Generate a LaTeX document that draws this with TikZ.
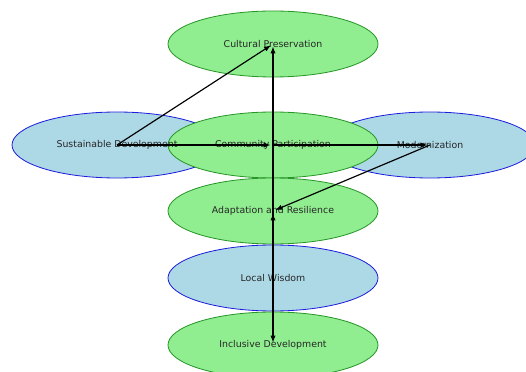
\documentclass[tikz,border=0pt]{standalone}
\usepackage{fontspec}
\setmainfont{DejaVu Sans}
\usetikzlibrary{shapes.geometric,arrows.meta}
\definecolor{nodegreen}{RGB}{144,238,144}
\definecolor{edgegreen}{RGB}{40,150,40}
\definecolor{nodeblue}{RGB}{173,216,230}
\definecolor{edgeblue}{RGB}{30,30,220}
\begin{document}
\begin{tikzpicture}[
    % one pixel of the reference is x=0.03cm
    x=0.03cm, y=-0.03cm,
    % Define styles for the elements
    green_node/.style={ellipse, draw=edgegreen, fill=nodegreen, line width=0.7pt, minimum width=210*0.03cm, minimum height=66*0.03cm, inner sep=0pt},
    blue_node/.style={ellipse, draw=edgeblue, fill=nodeblue, line width=0.7pt, minimum width=210*0.03cm, minimum height=66*0.03cm, inner sep=0pt},
    label_style/.style={inner sep=0pt, text=black!85, font=\fontsize{8}{10}\selectfont},
    link_style/.style={draw=black, line width=1pt, -{Latex[length=6pt,width=4.5pt]}, shorten >=2pt}
  ]

  % --- Step 1: Fix the frame of the picture ---
  \useasboundingbox (0,0) rectangle (526,372);
  \clip (0,0) rectangle (526,372);

  % --- Step 2: Draw the ellipses ---
  % The blue ones at the sides go first, so that the middle one covers them.
  \node[blue_node] (sust) at (117,145) {};
  \node[blue_node] (modern) at (430,145) {};

  \node[green_node] (culture) at (273,44) {};
  \node[green_node] (community) at (273,145) {};
  \node[green_node] (adapt) at (273,211) {};
  \node[blue_node] (wisdom) at (273,278) {};
  \node[green_node] (inclusive) at (273,345) {};

  % --- Step 3: Put the texts on top of all ellipses ---
  \node[label_style] (sust_text) at (sust) {Sustainable Development};
  \node[label_style] (modern_text) at (modern) {Modernization};
  \node[label_style] (culture_text) at (culture) {Cultural Preservation};
  \node[label_style] (community_text) at (community) {Community Participation};
  \node[label_style] (adapt_text) at (adapt) {Adaptation and Resilience};
  \node[label_style] (wisdom_text) at (wisdom) {Local Wisdom};
  \node[label_style] (inclusive_text) at (inclusive) {Inclusive Development};

  % --- Step 4: Draw the links from center to center ---
  \draw[link_style] (sust.center) -- (culture.center);
  \draw[link_style] (sust.center) -- (community.center);
  \draw[link_style] (community.center) -- (modern.center);
  \draw[link_style] (modern.center) -- (adapt.center);
  \draw[link_style] (wisdom.center) -- (culture.center);
  \draw[link_style] (wisdom.center) -- (adapt.center);
  \draw[link_style] (community.center) -- (inclusive.center);

\end{tikzpicture}
\end{document}
